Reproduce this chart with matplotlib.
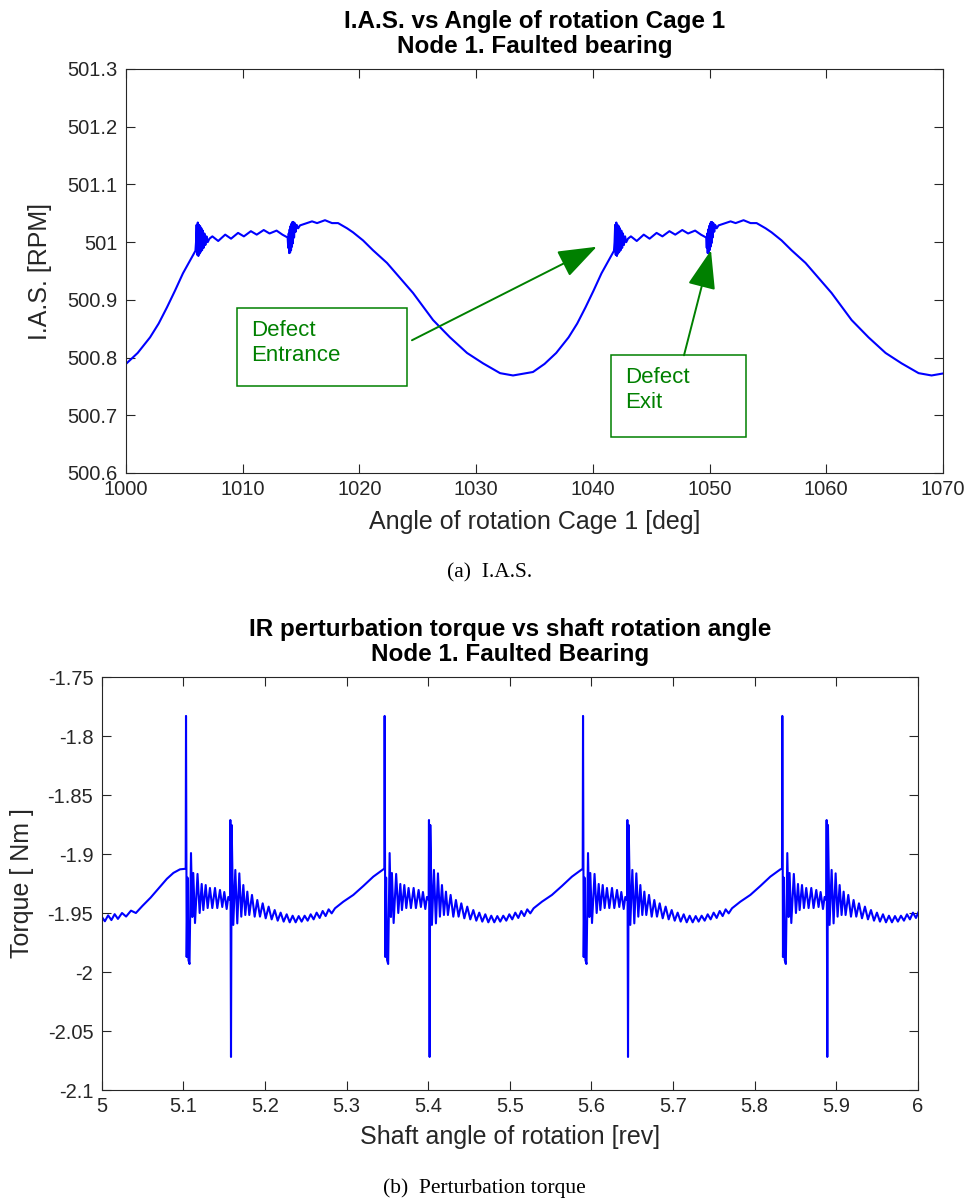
import numpy as np
import matplotlib
matplotlib.use("Agg")
import matplotlib.pyplot as plt
from matplotlib.patches import Rectangle

plt.rcParams['font.family'] = ['Liberation Sans', 'DejaVu Sans']

# ---------------- Data: I.A.S. (top) ----------------
# one cycle of the I.A.S. signal, angle relative to cycle start [deg]
ias_rel = [0.00, 1.00, 2.06, 2.80, 3.51, 4.20, 4.88, 5.95,
           6.00, 6.05, 6.10, 6.15, 6.20, 6.25, 6.30, 6.35, 6.40, 6.46, 6.52, 6.58,
           6.65, 6.72, 6.80, 6.90, 7.00, 7.15,
           7.40, 7.90, 8.50, 9.00, 9.60, 10.10, 10.70, 11.20, 11.80, 12.30, 12.90, 13.40, 13.85,
           13.90, 13.94, 13.98, 14.02, 14.06, 14.10, 14.14, 14.18, 14.22, 14.26, 14.30, 14.35,
           14.40, 14.46, 14.54, 14.62, 14.75, 14.91,
           15.51, 15.94, 16.37, 17.05, 17.65, 18.17, 18.94, 19.45, 20.31, 21.16, 22.36,
           23.48, 24.59, 26.31, 27.76, 29.22, 30.59, 32.05, 33.16, 34.87]
ias_val = [500.789, 500.808, 500.835, 500.859, 500.887, 500.916, 500.946, 500.985,
           501.000, 501.030, 500.978, 501.034, 500.976, 501.030, 500.980, 501.028, 500.983, 501.024, 500.986, 501.020,
           500.990, 501.015, 500.995, 501.010, 501.000, 501.006,
           501.010, 501.002, 501.013, 501.006, 501.016, 501.010, 501.019, 501.013, 501.021, 501.015, 501.020, 501.013, 501.008,
           500.990, 501.015, 500.981, 501.022, 500.982, 501.028, 500.986, 501.032, 500.992, 501.035, 500.998, 501.035,
           501.008, 501.033, 501.018, 501.030, 501.024, 501.029,
           501.033, 501.036, 501.033, 501.038, 501.033, 501.033, 501.024, 501.017, 501.003, 500.986, 500.964,
           500.938, 500.912, 500.865, 500.835, 500.808, 500.790, 500.773, 500.769, 500.775]
ias_cycle_starts = [1000.0, 1035.86]

ias_xticks = [1000, 1010, 1020, 1030, 1040, 1050, 1060, 1070]
ias_yticks = [500.6, 500.7, 500.8, 500.9, 501.0, 501.1, 501.2, 501.3]
ias_yticklabels = ['500.6', '500.7', '500.8', '500.9', '501', '501.1', '501.2', '501.3']

# ---------------- Data: perturbation torque (bottom) ----------------
# lead-in before the first defect impact
tq_lead_x = [5.000, 5.004, 5.008, 5.012, 5.016, 5.020, 5.025, 5.030, 5.036, 5.042,
             5.050, 5.060, 5.070, 5.080, 5.088, 5.096, 5.1028]
tq_lead_y = [-1.953, -1.957, -1.952, -1.956, -1.951, -1.955, -1.950, -1.953, -1.948, -1.950,
             -1.944, -1.937, -1.929, -1.921, -1.916, -1.913, -1.9125]
# one impact cycle, angle relative to impact [rev]
tq_rel = [0.0000, 0.0004, 0.0012, 0.0022, 0.0034, 0.0047,
          0.0065, 0.0081, 0.0093, 0.0114, 0.0145, 0.0171, 0.0196, 0.0216, 0.0245, 0.0269,
          0.0297, 0.0326, 0.0359, 0.0387, 0.0420, 0.0448, 0.0473, 0.0502, 0.0522,
          0.0543, 0.0547, 0.0555, 0.0563, 0.0583, 0.0608, 0.0632, 0.0657, 0.0681, 0.0706,
          0.0730, 0.0755, 0.0779, 0.0812, 0.0845, 0.0877, 0.0910, 0.0943, 0.0980, 0.1016,
          0.1053, 0.1090, 0.1127, 0.1163, 0.1200, 0.1237, 0.1274, 0.1310, 0.1347, 0.1384,
          0.1420, 0.1457, 0.1494, 0.1531, 0.1567, 0.1604, 0.1641, 0.1678, 0.1714, 0.1751,
          0.1788, 0.1829, 0.1931, 0.2053, 0.2176, 0.2298, 0.2380, 0.2421]
tq_val = [-1.9125, -1.7830, -1.9873, -1.9200, -1.9900, -1.9932,
          -1.8992, -1.9534, -1.9161, -1.9585, -1.9169, -1.9500, -1.9254, -1.9475, -1.9263, -1.9458,
          -1.9288, -1.9458, -1.9288, -1.9458, -1.9305, -1.9449, -1.9322, -1.9466, -1.9364,
          -1.9390, -1.8712, -2.0720, -1.8754, -1.9601, -1.9135, -1.9588, -1.9164, -1.9531, -1.9263,
          -1.9517, -1.9319, -1.9517, -1.9347, -1.9531, -1.9390, -1.9531, -1.9418, -1.9545, -1.9446,
          -1.9554, -1.9475, -1.9565, -1.9497, -1.9573, -1.9511, -1.9579, -1.9523, -1.9579, -1.9526,
          -1.9573, -1.9523, -1.9565, -1.9511, -1.9554, -1.9497, -1.9542, -1.9483, -1.9526, -1.9469,
          -1.9503, -1.9460, -1.9404, -1.9347, -1.9271, -1.9192, -1.9150, -1.9130]
tq_impacts = [5.1030, 5.3463, 5.5893, 5.8334]

tq_xticks = [5.0, 5.1, 5.2, 5.3, 5.4, 5.5, 5.6, 5.7, 5.8, 5.9, 6.0]
tq_xticklabels = ['5', '5.1', '5.2', '5.3', '5.4', '5.5', '5.6', '5.7', '5.8', '5.9', '6']
tq_yticks = [-2.1, -2.05, -2.0, -1.95, -1.9, -1.85, -1.8, -1.75]
tq_yticklabels = ['-2.1', '-2.05', '-2', '-1.95', '-1.9', '-1.85', '-1.8', '-1.75']

# ---------------- Build series ----------------
ias_x = np.concatenate([np.array(ias_rel) + s for s in ias_cycle_starts])
ias_y = np.concatenate([np.array(ias_val) for _ in ias_cycle_starts])
tq_x = np.concatenate([np.array(tq_lead_x)] + [np.array(tq_rel) + s for s in tq_impacts])
tq_y = np.concatenate([np.array(tq_lead_y)] + [np.array(tq_val) for _ in tq_impacts])

W, H = 967, 1202
fig = plt.figure(figsize=(W / 100, H / 100), dpi=100)
AX_C = '#262626'
BLUE = '#0000ff'
GREEN = '#008000'


def style(ax):
    for sp in ax.spines.values():
        sp.set_color(AX_C)
        sp.set_linewidth(0.8)
    ax.tick_params(direction='in', length=6.5, width=0.8, colors=AX_C,
                   top=True, right=True, labelsize=14.5)
    ax.tick_params(axis='x', pad=5)
    ax.tick_params(axis='y', pad=6)


# ---- top axes ----
ax1 = fig.add_axes([126 / W, 1 - 473 / H, 817 / W, 404 / H])
ax1.plot(ias_x, ias_y, color=BLUE, lw=1.5)
ax1.set_xlim(1000, 1070)
ax1.set_ylim(500.6, 501.3)
ax1.set_xticks(ias_xticks)
ax1.set_yticks(ias_yticks)
ax1.set_yticklabels(ias_yticklabels)
style(ax1)
ax1.set_xlabel('Angle of rotation Cage 1 [deg]', fontsize=18, color=AX_C, va='center')
ax1.xaxis.set_label_coords(0.5, (473 - 522) / 404)
ax1.set_ylabel('I.A.S. [RPM]', fontsize=18, color=AX_C, va='center')
ax1.yaxis.set_label_coords((40 - 126) / 817, 0.5)
ax1.set_title('I.A.S. vs Angle of rotation Cage 1\nNode 1. Faulted bearing',
              fontsize=17.5, fontweight='bold', color='black', pad=11.5, linespacing=1.1)

# annotation boxes
ax1.add_patch(Rectangle((0.1359, 0.2153), 0.2080, 0.1931, transform=ax1.transAxes,
                        fill=False, edgecolor=GREEN, lw=1.1))
ax1.text(0.153, 0.3218, 'Defect\nEntrance', transform=ax1.transAxes, color=GREEN,
         fontsize=16, va='center', ha='left', linespacing=1.2)
ax1.add_patch(Rectangle((0.5936, 0.0891), 0.1653, 0.2030, transform=ax1.transAxes,
                        fill=False, edgecolor=GREEN, lw=1.1))
ax1.text(0.611, 0.2054, 'Defect\nExit', transform=ax1.transAxes, color=GREEN,
         fontsize=16, va='center', ha='left', linespacing=1.2)
arrow_kw = dict(arrowstyle='-|>,head_length=1.1,head_width=0.4', color=GREEN, lw=1.4,
                shrinkA=0, shrinkB=0, mutation_scale=22)
ax1.annotate('', xy=(1040.33, 500.992), xytext=(1024.5, 500.830), arrowprops=arrow_kw)
ax1.annotate('', xy=(1050.12, 500.986), xytext=(1047.81, 500.804), arrowprops=arrow_kw)

fig.text(490 / W, 1 - 573 / H, '(a)  I.A.S.', family='Liberation Serif', fontsize=15.5,
         ha='center', va='center')

# ---- bottom axes ----
ax2 = fig.add_axes([101.6 / W, 1 - 1090 / H, 816.4 / W, 413 / H])
ax2.plot(tq_x, tq_y, color=BLUE, lw=1.5)
ax2.set_xlim(5, 6)
ax2.set_ylim(-2.1, -1.75)
ax2.set_xticks(tq_xticks)
ax2.set_xticklabels(tq_xticklabels)
ax2.set_yticks(tq_yticks)
ax2.set_yticklabels(tq_yticklabels)
style(ax2)
ax2.set_xlabel('Shaft angle of rotation [rev]', fontsize=18, color=AX_C, va='center')
ax2.xaxis.set_label_coords(0.5, (1090 - 1137) / 413)
ax2.set_ylabel('Torque [ Nm ]', fontsize=18, color=AX_C, va='center')
ax2.yaxis.set_label_coords((22 - 101.6) / 816.4, 0.5)
ax2.set_title('IR perturbation torque vs shaft rotation angle\nNode 1. Faulted Bearing',
              fontsize=17.5, fontweight='bold', color='black', pad=11.5, linespacing=1.1)

fig.text(484 / W, 1 - 1188 / H, '(b)  Perturbation torque', family='Liberation Serif',
         fontsize=15.5, ha='center', va='center')

fig.savefig('out.png', dpi=100)
